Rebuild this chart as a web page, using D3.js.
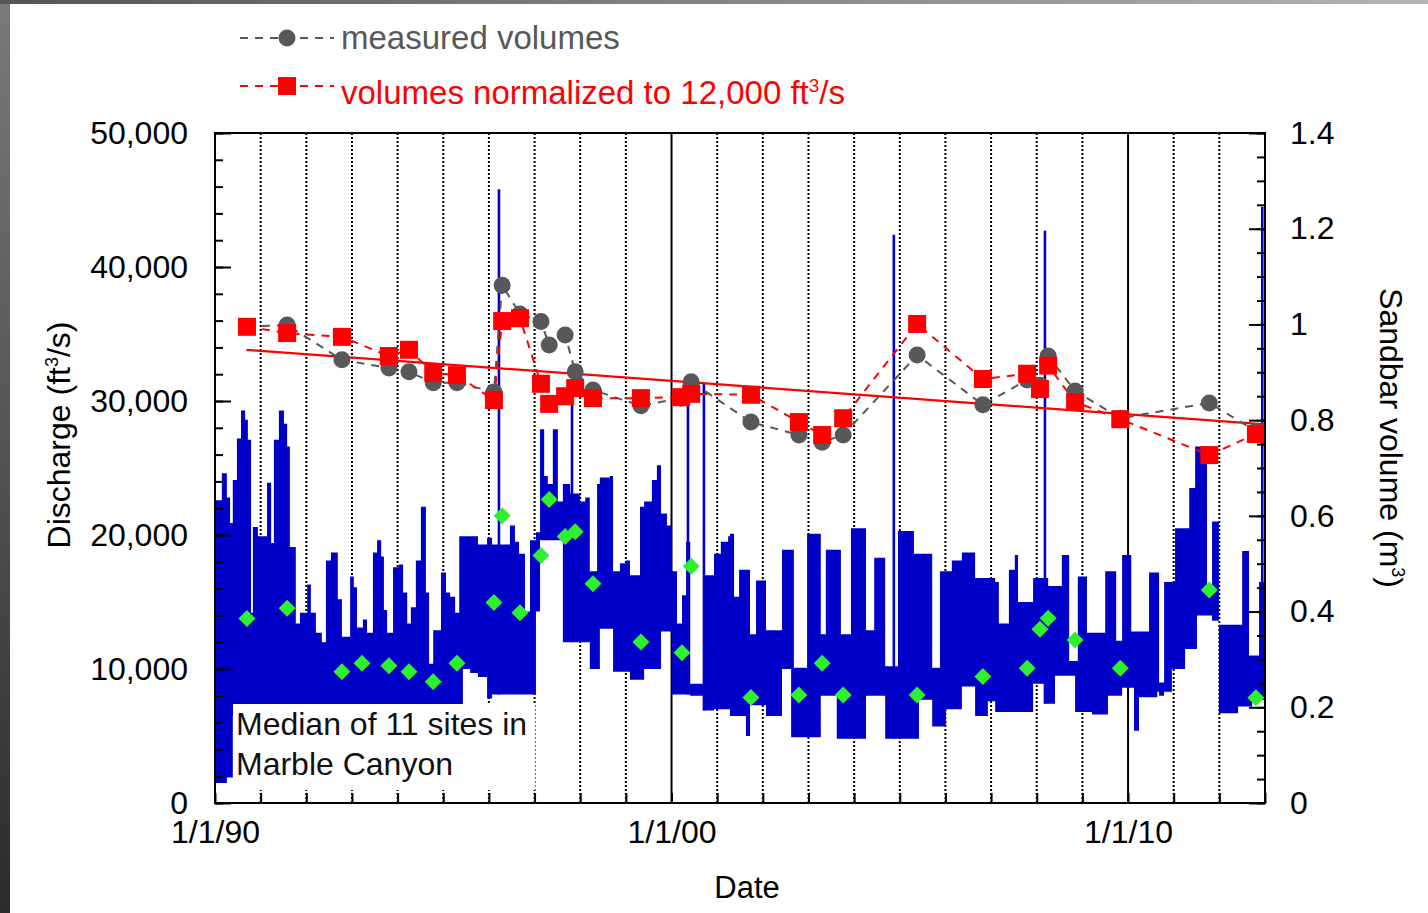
<!DOCTYPE html>
<html>
<head>
<meta charset="utf-8">
<script src="https://cdn.jsdelivr.net/npm/d3@7"></script>
<style>
    body { margin: 0; background: #fff; }
    #frame-left { position: absolute; left: 0; top: 0; width: 10px; height: 913px; background: linear-gradient(#7a7a7a, #2b2b2b); }
    #frame-top { position: absolute; left: 0; top: 0; width: 1428px; height: 4px; background: linear-gradient(90deg, #555, #b4b4b4); }
</style>
</head>
<body>
<div id="chart"></div>
<div id="frame-left"></div>
<div id="frame-top"></div>
<script>
// discharge envelope (daily fluctuation range), step-after
const flowYears = [
    1990.00, 1990.15, 1990.26, 1990.33, 1990.39, 1990.48, 1990.57, 1990.66, 1990.72, 1990.79, 1990.83, 1990.94,
    1991.14, 1991.23, 1991.29, 1991.40, 1991.51, 1991.58, 1991.64, 1991.77, 1991.86,
    1992.02, 1992.10, 1992.21, 1992.34, 1992.43, 1992.54, 1992.69, 1992.78, 1992.96,
    1993.04, 1993.11, 1993.24, 1993.33, 1993.46, 1993.55, 1993.64, 1993.70, 1993.77, 1993.90,
    1994.03, 1994.12, 1994.21, 1994.29, 1994.40, 1994.51, 1994.62, 1994.69, 1994.78, 1994.95,
    1995.06, 1995.15, 1995.26, 1995.35, 1995.43, 1995.59, 1995.76, 1995.96,
    1996.07, 1996.35, 1996.46, 1996.57, 1996.66, 1996.79, 1996.90,
    1997.03, 1997.12, 1997.21, 1997.29, 1997.40, 1997.51, 1997.62, 1997.78,
    1998.00, 1998.11, 1998.21, 1998.37, 1998.43, 1998.65, 1998.72, 1998.87,
    1999.00, 1999.09, 1999.31, 1999.40, 1999.57, 1999.68, 1999.77, 1999.90,
    2000.01, 2000.12, 2000.23, 2000.32, 2000.41, 2000.69, 2000.84, 2000.93,
    2001.08, 2001.24, 2001.28, 2001.37, 2001.48, 2001.63, 2001.72, 2001.85,
    2002.07, 2002.42, 2002.62, 2002.68, 2002.97,
    2003.27, 2003.38, 2003.62, 2003.71, 2003.93,
    2004.26, 2004.44, 2004.68, 2004.96,
    2005.31, 2005.42, 2005.71, 2005.88,
    2006.01, 2006.14, 2006.36, 2006.65, 2006.93,
    2007.09, 2007.17, 2007.39, 2007.52, 2007.59, 2007.92,
    2008.18, 2008.25, 2008.40, 2008.55, 2008.71, 2008.84, 2008.90,
    2009.10, 2009.21, 2009.50, 2009.56, 2009.74, 2009.87,
    2010.07, 2010.13, 2010.24, 2010.46, 2010.64, 2010.68, 2010.79, 2010.96,
    2011.03, 2011.25, 2011.34, 2011.47, 2011.51, 2011.73, 2011.84, 2011.99,
    2012.41, 2012.50, 2012.65, 2012.72, 2012.87, 2013.00
];
const flowHigh = [
    22600, 24600, 22800, 20900, 24100, 27200, 29300, 28600, 27100, 14200, 20600, 19900,
    23900, 19400, 27100, 29300, 28300, 26600, 19100, 13400, 14200,
    16300, 14200, 12700, 12000, 18100, 18700, 15200, 12400, 16900,
    16100, 13100, 13700, 12700, 18700, 19600, 18400, 14400, 12700, 17600,
    17800, 15700, 13400, 14600, 18100, 22100, 15700, 10400, 12900, 17200,
    15700, 15400, 14200, 19900, 19900, 19900, 19300, 19800,
    19300, 19300, 20700, 19500, 18600, 14300, 19600,
    20200, 27900, 24400, 23800, 27900, 22500, 23800, 23100,
    22500, 22800, 17300, 23800, 24300, 24400, 17300, 17900,
    18100, 17000, 22100, 22500, 24100, 25200, 21600, 20700,
    17300, 13400, 15500, 19500, 8900, 17000, 17000, 18600,
    19500, 19900, 20100, 15400, 17400, 17400, 12600, 16600,
    12900, 18900, 18900, 10100, 20100,
    12600, 18900, 18900, 12600, 20500,
    12900, 18300, 10200, 20300,
    18600, 18600, 10100, 17300,
    17300, 18100, 18700, 16800, 16800,
    16500, 13400, 17400, 18500, 15000, 16800,
    16800, 16200, 16200, 18500, 10600, 10600, 16900,
    12700, 12700, 17300, 17300, 12100, 18500,
    12800, 12800, 12800, 17200, 17200, 9000, 16500, 16500,
    20500, 20500, 23500, 26600, 26600, 16200, 21000, 13300,
    13300, 18800, 11000, 11000, 16500, 16500
];
const flowLow = [
    1500, 1500, 1900, 1900, 6500, 6500, 6500, 6500, 6500, 6500, 6500, 6500,
    6500, 6500, 6500, 6500, 6500, 6500, 6500, 6500, 6500,
    6500, 6500, 6500, 6500, 6500, 6500, 6500, 6500, 6500,
    6500, 6500, 6500, 6500, 6500, 6500, 6500, 6500, 6500, 6500,
    6500, 6500, 6500, 6500, 6500, 6500, 6500, 6500, 6500, 6500,
    6500, 6500, 6500, 6500, 10000, 9700, 9400, 7800,
    8100, 8100, 8100, 8100, 8100, 8100, 8100,
    14300, 19600, 19600, 19600, 19600, 19600, 12000, 12000,
    12000, 12000, 10000, 10000, 13000, 13000, 9800, 9800,
    9800, 9200, 9200, 10000, 10000, 10000, 12800, 12800,
    8100, 8100, 8100, 8100, 8000, 6900, 6900, 7000,
    7000, 7000, 6500, 6500, 6500, 5000, 7300, 7300,
    6500, 10000, 4900, 4900, 4900,
    8000, 8000, 4800, 4800, 4800,
    8000, 8000, 4800, 4800,
    4800, 7700, 5700, 5700,
    7000, 7000, 8700, 6500, 7600,
    6800, 6800, 6800, 6800, 6800, 8900,
    7400, 7400, 9500, 9500, 9500, 6800, 6800,
    6800, 6600, 6600, 8000, 8000, 8600,
    8600, 5400, 7900, 7900, 8300, 8000, 8300, 10000,
    10000, 11500, 11500, 11500, 14000, 14000, 13600, 6700,
    7200, 7200, 7200, 7700, 7700, 7700
];

// short high-flow releases drawn as thin lines
const spikeYears = [1996.22, 1997.82, 2000.36, 2000.71, 2004.87, 2008.18, 2012.94];
const spikePeaks = [45800, 30800, 30400, 31300, 42400, 42700, 44500];

// sandbar surveys
const surveyYears = [1990.70, 1991.58, 1992.78, 1993.81, 1994.25, 1994.78, 1995.30, 1996.11, 1996.29, 1996.68,
    1997.14, 1997.32, 1997.67, 1997.89, 1998.28, 1999.33, 2000.21, 2000.43, 2001.74, 2002.79,
    2003.30, 2003.76, 2005.38, 2006.82, 2007.79, 2008.07, 2008.25, 2008.84, 2009.83, 2011.78, 2012.80];
const measuredVolumes = [0.995, 0.999, 0.926, 0.909, 0.901, 0.878, 0.878, 0.859, 1.082, 1.022,
    1.006, 0.957, 0.978, 0.901, 0.863, 0.830, 0.846, 0.880, 0.796, 0.769,
    0.754, 0.769, 0.936, 0.832, 0.884, 0.873, 0.934, 0.861, 0.804, 0.836, 0.777];
const normalizedVolumes = [0.995, 0.982, 0.974, 0.934, 0.947, 0.899, 0.894, 0.842, 1.007, 1.013,
    0.876, 0.834, 0.850, 0.867, 0.846, 0.846, 0.848, 0.855, 0.853, 0.796,
    0.769, 0.804, 1.001, 0.886, 0.897, 0.865, 0.914, 0.838, 0.802, 0.727, 0.771];

// discharge at the time of each survey (green diamonds)
const gaugeYears = [1990.70, 1991.58, 1992.78, 1993.22, 1993.81, 1994.25, 1994.78, 1995.30, 1996.11, 1996.29,
    1996.68, 1997.14, 1997.32, 1997.67, 1997.89, 1998.28, 1999.33, 2000.23, 2000.43, 2001.74,
    2002.79, 2003.30, 2003.76, 2005.38, 2006.82, 2007.79, 2008.07, 2008.25, 2008.84, 2009.83, 2011.78, 2012.80];
const gaugeFlows = [13770, 14530, 9800, 10430, 10250, 9800, 9050, 10430, 14960, 21440,
    14200, 18470, 22650, 19890, 20240, 16360, 12020, 11220, 17660, 7870,
    8060, 10430, 8060, 8060, 9440, 10050, 12960, 13780, 12160, 10050, 15900, 7860];

// linear trend of normalized volumes
const trendYears = [1990.69, 2013.0];
const trendVolumes = [0.947, 0.791];

const flowTicks = [0, 10000, 20000, 30000, 40000, 50000];
const volumeTicks = [0, 0.2, 0.4, 0.6, 0.8, 1.0, 1.2, 1.4];
const yearLabels = { 1990: "1/1/90", 2000: "1/1/00", 2010: "1/1/10" };

const width = 1428, height = 913;
const margin = { top: 133, right: 163, bottom: 110, left: 215 };
const innerWidth = width - margin.left - margin.right;
const innerHeight = height - margin.top - margin.bottom;
const font = '"Liberation Sans", Arial, sans-serif';
const fontSize = "32px";
const blue = "#0000c8", red = "#ff0000", grey = "#58585a", green = "#2ef02e";

const x = d3.scaleLinear().domain([1990, 2013]).range([0, innerWidth]);
const yFlow = d3.scaleLinear().domain([0, 50000]).range([innerHeight, 0]);
const yVol = d3.scaleLinear().domain([0, 1.4]).range([innerHeight, 0]);

const svg = d3.select("#chart").append("svg")
    .attr("width", width)
    .attr("height", height)
    .style("display", "block");

const group = svg.append("g")
    .attr("transform", `translate(${margin.left}, ${margin.top})`);

// yearly grid lines (dotted), decades solid
group.append("g")
    .attr("class", "x-grid")
    .selectAll("line")
    .data(d3.range(1991, 2013))
    .join("line")
    .attr("x1", d => x(d)).attr("x2", d => x(d))
    .attr("y1", 0).attr("y2", innerHeight)
    .attr("stroke", "#000")
    .attr("stroke-width", 2)
    .attr("stroke-dasharray", d => d % 10 === 0 ? null : "2,2");

// discharge band
const flowRows = flowYears.map((t, i) => ({ t, low: flowLow[i], high: flowHigh[i] }));
const flowArea = d3.area()
    .x(d => x(d.t))
    .y0(d => yFlow(d.low))
    .y1(d => yFlow(d.high))
    .curve(d3.curveStepAfter);

group.append("path")
    .datum(flowRows)
    .attr("fill", blue)
    .attr("d", flowArea);

const bisectYear = d3.bisector(d => d.t).right;
group.append("g")
    .attr("class", "spikes")
    .selectAll("line")
    .data(spikeYears.map((t, i) => ({ t, peak: spikePeaks[i], base: flowRows[Math.max(0, bisectYear(flowRows, t) - 1)].low })))
    .join("line")
    .attr("x1", d => x(d.t)).attr("x2", d => x(d.t))
    .attr("y1", d => yFlow(d.base)).attr("y2", d => yFlow(d.peak))
    .attr("stroke", blue)
    .attr("stroke-width", 2.6);

// note box
const note = group.append("g").attr("class", "note");
note.append("rect")
    .attr("x", 18).attr("y", 571)
    .attr("width", 302).attr("height", 86)
    .attr("fill", "#fff");
note.selectAll("text")
    .data(["Median of 11 sites in", "Marble Canyon"])
    .join("text")
    .attr("x", 21)
    .attr("y", (d, i) => 602 + i * 40)
    .style("font-family", font)
    .style("font-size", fontSize)
    .attr("fill", "#111")
    .text(d => d);

// trend line
const trendLine = d3.line().x(d => x(d.t)).y(d => yVol(d.v));
group.append("path")
    .datum(trendYears.map((t, i) => ({ t, v: trendVolumes[i] })))
    .attr("fill", "none")
    .attr("stroke", red)
    .attr("stroke-width", 2.2)
    .attr("d", trendLine);

const measuredRows = surveyYears.map((t, i) => ({ t, v: measuredVolumes[i] }));
const normalizedRows = surveyYears.map((t, i) => ({ t, v: normalizedVolumes[i] }));

group.append("path")
    .datum(measuredRows)
    .attr("fill", "none")
    .attr("stroke", grey)
    .attr("stroke-width", 2)
    .attr("stroke-dasharray", "8,7")
    .attr("d", trendLine);

group.append("path")
    .datum(normalizedRows)
    .attr("fill", "none")
    .attr("stroke", red)
    .attr("stroke-width", 2)
    .attr("stroke-dasharray", "8,7")
    .attr("d", trendLine);

// green diamonds: discharge at survey
group.append("g")
    .selectAll("rect")
    .data(gaugeYears.map((t, i) => ({ t, q: gaugeFlows[i] })))
    .join("rect")
    .attr("x", -6).attr("y", -6)
    .attr("width", 12).attr("height", 12)
    .attr("transform", d => `translate(${x(d.t)}, ${yFlow(d.q)}) rotate(45)`)
    .attr("fill", green);

group.append("g")
    .selectAll("circle")
    .data(measuredRows)
    .join("circle")
    .attr("cx", d => x(d.t))
    .attr("cy", d => yVol(d.v))
    .attr("r", 8.5)
    .attr("fill", grey);

group.append("g")
    .selectAll("rect")
    .data(normalizedRows)
    .join("rect")
    .attr("x", d => x(d.t) - 9)
    .attr("y", d => yVol(d.v) - 9)
    .attr("width", 18).attr("height", 18)
    .attr("fill", red);

// axes
const styleAxis = g => {
    g.select(".domain").remove();
    g.selectAll(".tick line").attr("stroke", "#000").attr("stroke-width", 2);
    g.selectAll(".tick text")
        .style("font-family", font)
        .style("font-size", fontSize)
        .attr("fill", "#000");
    g.selectAll(".tick text").filter(function () { return this.textContent === ""; }).remove();
};

group.append("g")
    .call(d3.axisLeft(yFlow).tickValues(d3.range(0, 50001, 2000)).tickSize(-8).tickFormat(""))
    .call(styleAxis);
group.append("g")
    .call(d3.axisLeft(yFlow).tickValues(flowTicks).tickSize(-16).tickPadding(27).tickFormat(d3.format(",")))
    .call(styleAxis);

group.append("g")
    .attr("transform", `translate(${innerWidth}, 0)`)
    .call(d3.axisRight(yVol).tickValues(d3.range(0, 29).map(i => i * 0.05)).tickSize(-8).tickFormat(""))
    .call(styleAxis);
group.append("g")
    .attr("transform", `translate(${innerWidth}, 0)`)
    .call(d3.axisRight(yVol).tickValues(volumeTicks).tickSize(-16).tickPadding(25).tickFormat(d => String(+d.toFixed(1))))
    .call(styleAxis);

group.append("g")
    .attr("transform", `translate(0, ${innerHeight})`)
    .call(d3.axisBottom(x).tickValues(d3.range(1990, 2014)).tickSize(-10).tickPadding(17)
        .tickFormat(d => yearLabels[d] || ""))
    .call(styleAxis);

group.append("rect")
    .attr("width", innerWidth)
    .attr("height", innerHeight)
    .attr("fill", "none")
    .attr("stroke", "#000")
    .attr("stroke-width", 2);

// axis titles
const leftTitle = svg.append("text")
    .attr("transform", "translate(70, 435) rotate(-90)")
    .attr("text-anchor", "middle")
    .style("font-family", font)
    .style("font-size", fontSize)
    .attr("fill", "#000");
leftTitle.append("tspan").text("Discharge (ft");
leftTitle.append("tspan").attr("dy", -12).style("font-size", "18px").text("3");
leftTitle.append("tspan").attr("dy", 12).text("/s)");

const rightTitle = svg.append("text")
    .attr("transform", "translate(1380, 438) rotate(90)")
    .attr("text-anchor", "middle")
    .style("font-family", font)
    .style("font-size", fontSize)
    .attr("fill", "#000");
rightTitle.append("tspan").text("Sandbar volume (m");
rightTitle.append("tspan").attr("dy", -12).style("font-size", "18px").text("3");
rightTitle.append("tspan").attr("dy", 12).text(")");

svg.append("text")
    .attr("x", 747).attr("y", 898)
    .attr("text-anchor", "middle")
    .style("font-family", font)
    .style("font-size", "31px")
    .attr("fill", "#000")
    .text("Date");

// legend
const legend = svg.append("g").attr("class", "legend");
const legendRows = [
    { label: "measured volumes", color: grey, shape: "circle", y: 38, textY: 49 },
    { label: "volumes normalized to 12,000 ft", color: red, shape: "square", y: 86, textY: 104 }
];
const legendItems = legend.selectAll("g").data(legendRows).join("g");
legendItems.append("line")
    .attr("x1", 240).attr("x2", 334)
    .attr("y1", d => d.y).attr("y2", d => d.y)
    .attr("stroke", d => d.color)
    .attr("stroke-width", 2)
    .attr("stroke-dasharray", "8,7");
legendItems.filter(d => d.shape === "circle").append("circle")
    .attr("cx", 287).attr("cy", d => d.y).attr("r", 8.5)
    .attr("fill", d => d.color);
legendItems.filter(d => d.shape === "square").append("rect")
    .attr("x", 278).attr("y", d => d.y - 9)
    .attr("width", 18).attr("height", 18)
    .attr("fill", d => d.color);
const legendText = legendItems.append("text")
    .attr("x", 341)
    .attr("y", d => d.textY)
    .style("font-family", font)
    .style("font-size", "33px")
    .attr("fill", d => d.color)
    .text(d => d.label);
legendText.filter(d => d.shape === "square").append("tspan")
    .attr("dy", -12).style("font-size", "19px").text("3");
legendText.filter(d => d.shape === "square").append("tspan")
    .attr("dy", 12).text("/s");
</script>
</body>
</html>
